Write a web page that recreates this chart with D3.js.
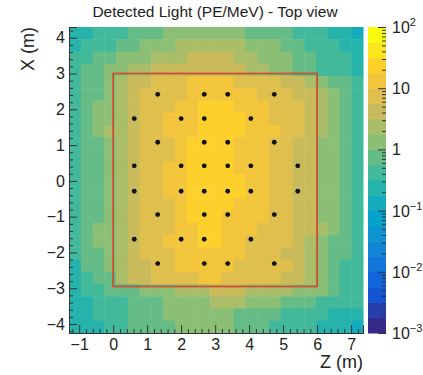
<!DOCTYPE html>
<html>
<head>
<meta charset="utf-8">
<script src="https://cdn.jsdelivr.net/npm/d3@7/dist/d3.min.js"></script>
<style>
body { margin: 0; background: #fff; }
svg { font-family: "Liberation Sans", Arial, Helvetica, sans-serif; }
</style>
</head>
<body>
<svg id="chart" width="423" height="375"></svg>
<script>
// detected light per cell, as contour band code (0-9a-j -> 20 quarter-decade bands from 1e-3 to 1e2)
// rows go from X = +4.3 (top) down to X = -4.25, columns from Z = -1.3 to 7.35
const lightRows = [
    "99aaabbbcccccccbbbbaaa998",
    "9aaabbcccddddddcccbbaaa99",
    "aabbcccdddeeeeddcccbbaaa9",
    "abbccddeeeeeeeeddccbbaaa9",
    "abbcdeefffggggffffeedcbba",
    "abbcdeffffggggggfffeedcba",
    "abccdefffgghhhgggfffedcba",
    "abccdeffggghhhhggfffedcba",
    "abcddeffggghhhhgggffedcba",
    "abbcdefffghhhhgggffeeccba",
    "abbcdefffghhhhgggffeeccba",
    "abbcdeffgghhhhgggffeeccba",
    "abbcdeffgghhhhhggffeeccba",
    "abbcdeffgghhhhhggffeeccba",
    "abbcdefffghhhhgggffeeccba",
    "abbcdefffghhhggggffeeccba",
    "abccdefffgghhgggfffeedcba",
    "abccdeffggghhggffffedcbba",
    "abbcdefffggggggfffeedcbba",
    "9bbcdeeffgggggfffffedcbaa",
    "9abbdeeffffggfffffeedcbaa",
    "9aabbbcccdddeeeddddcccbaa",
    "99aaabbbccccdddcccbbbaaaa",
    "99aaabbbccccccbbbbaaaa999",
    "999aabbbbcccccbbbaaaa9998"
];

// PMT positions (Z, X) in metres
const pmtZ = [1.31, 2.68, 3.37, 4.74,
              0.62, 2.0, 2.68, 4.05,
              1.31, 2.68, 3.37, 4.74,
              0.62, 2.0, 2.68, 3.37, 4.05, 5.43,
              0.62, 2.0, 2.68, 3.37, 4.05, 5.43,
              1.31, 2.68, 3.37, 4.74,
              0.62, 2.0, 2.68, 4.05,
              1.31, 2.68, 3.37, 4.74];
const pmtX = [2.42, 2.42, 2.42, 2.42,
              1.74, 1.74, 1.74, 1.74,
              1.08, 1.08, 1.08, 1.08,
              0.42, 0.42, 0.42, 0.42, 0.42, 0.42,
              -0.29, -0.29, -0.29, -0.29, -0.29, -0.29,
              -0.94, -0.94, -0.94, -0.94,
              -1.63, -1.63, -1.63, -1.63,
              -2.31, -2.31, -2.31, -2.31];

// detector box outline
const boxZ = [0, 6];
const boxX = [-2.95, 3];

const zTicks = [-1, 0, 1, 2, 3, 4, 5, 6, 7];
const xTicks = [-4, -3, -2, -1, 0, 1, 2, 3, 4];
const cbTicks = [1e-3, 1e-2, 1e-1, 1, 10, 100];
const cbLabels = [["10", "-3"], ["10", "-2"], ["10", "-1"], ["1", ""], ["10", ""], ["10", "2"]];

const zRange = [-1.3, 7.35];
const xRange = [-4.25, 4.3];
const nLevels = 20;

const margin = {top: 27, left: 69, right: 60, bottom: 42};
const width = 363 - margin.left;
const height = 333 - margin.top;

const svg = d3.select("#chart");

const xScale = d3.scaleLinear().domain(zRange).range([0, width]);
const yScale = d3.scaleLinear().domain(xRange).range([height, 0]);

// ROOT kBird palette
const birdStops = [0, 0.125, 0.25, 0.375, 0.5, 0.625, 0.75, 0.875, 1];
const birdR = [0.2082, 0.0592, 0.0780, 0.0232, 0.1802, 0.5301, 0.8186, 0.9956, 0.9764];
const birdG = [0.1664, 0.3599, 0.5041, 0.6419, 0.7178, 0.7492, 0.7328, 0.7862, 0.9832];
const birdB = [0.5293, 0.8684, 0.8385, 0.7914, 0.6425, 0.4662, 0.3499, 0.1968, 0.0539];
const bird = d3.scaleLinear()
    .domain(birdStops)
    .range(birdStops.map((s, i) => d3.rgb(birdR[i] * 255, birdG[i] * 255, birdB[i] * 255)))
    .interpolate(d3.interpolateRgb);

const logScale = d3.scaleLog().domain([1e-3, 1e2]);
function bandOf(v){
    return Math.max(0, Math.min(nLevels - 1, Math.floor(logScale(v) * nLevels)));
}
function colorOf(v){
    return bird(bandOf(v) / (nLevels - 1));
}

// build cells
const nRows = lightRows.length;
const nCols = lightRows[0].length;
const dz = (zRange[1] - zRange[0]) / nCols;
const dx = (xRange[1] - xRange[0]) / nRows;
const cells = [];
lightRows.forEach((row, j) => {
    row.split("").forEach((ch, i) => {
        const b = parseInt(ch, 36);
        cells.push({
            z0: zRange[0] + i * dz,
            x1: xRange[1] - j * dx,
            value: Math.pow(10, -3 + (b + 0.5) * 5 / nLevels)
        });
    });
});

const g = svg.append("g")
    .attr("transform", "translate(" + margin.left + "," + margin.top + ")");

g.selectAll(".cell")
    .data(cells)
    .enter().append("rect")
    .attr("class", "cell")
    .attr("x", d => xScale(d.z0))
    .attr("y", d => yScale(d.x1))
    .attr("width", xScale(d3.min(cells, c => c.z0) + dz) - xScale(d3.min(cells, c => c.z0)) + 0.5)
    .attr("height", yScale(xRange[1] - dx) - yScale(xRange[1]) + 0.5)
    .style("fill", d => colorOf(d.value));

// detector box
g.append("rect")
    .attr("x", xScale(boxZ[0]))
    .attr("y", yScale(boxX[1]))
    .attr("width", xScale(boxZ[1]) - xScale(boxZ[0]))
    .attr("height", yScale(boxX[0]) - yScale(boxX[1]))
    .style("fill", "none")
    .style("stroke", "#cc4f33")
    .style("stroke-width", 1.8);

// PMTs
g.selectAll(".pmt")
    .data(pmtZ.map((z, i) => ({z: z, x: pmtX[i]})))
    .enter().append("circle")
    .attr("class", "pmt")
    .attr("cx", d => xScale(d.z))
    .attr("cy", d => yScale(d.x))
    .attr("r", 2.4)
    .style("fill", "#111");

// axes (ticks inside the frame, ROOT style)
const axisColor = "#333";
const xAxis = d3.axisBottom(xScale).tickValues(zTicks).tickSize(-8).tickPadding(6);
const xMinor = d3.axisBottom(xScale)
    .tickValues(d3.range(-1.2, 7.35, 0.2).filter(v => Math.abs(v - Math.round(v)) > 0.01))
    .tickSize(-4).tickFormat("");
const yAxis = d3.axisLeft(yScale).tickValues(xTicks).tickSize(-8).tickPadding(4);
const yMinor = d3.axisLeft(yScale)
    .tickValues(d3.range(-4.2, 4.3, 0.2).filter(v => Math.abs(v - Math.round(v)) > 0.01))
    .tickSize(-4).tickFormat("");

g.append("g").attr("class", "axis axis--x")
    .attr("transform", "translate(0," + height + ")")
    .call(xMinor);
g.append("g").attr("class", "axis axis--x")
    .attr("transform", "translate(0," + height + ")")
    .call(xAxis);
g.append("g").attr("class", "axis axis--y").call(yMinor);
g.append("g").attr("class", "axis axis--y").call(yAxis);

g.selectAll(".axis text").style("font-size", "16px").style("fill", "#222");
g.selectAll(".axis line").style("stroke", axisColor);
g.selectAll(".axis path").style("stroke", axisColor);

// axis titles
svg.append("text")
    .attr("x", 363)
    .attr("y", 368)
    .attr("text-anchor", "end")
    .style("font-size", "18px")
    .style("fill", "#222")
    .text("Z (m)");

svg.append("text")
    .attr("transform", "translate(34," + margin.top + ") rotate(-90)")
    .attr("text-anchor", "end")
    .style("font-size", "18px")
    .style("fill", "#222")
    .text("X (m)");

// title
svg.append("text")
    .attr("x", 215)
    .attr("y", 17)
    .attr("text-anchor", "middle")
    .style("font-size", "15.5px")
    .style("fill", "#222")
    .text("Detected Light (PE/MeV) - Top view");

// colour bar
const cbX = 368, cbW = 18;
const cbScale = d3.scaleLog().domain([1e-3, 1e2]).range([margin.top + height, margin.top]);
const cb = svg.append("g");
const bandEdges = d3.range(nLevels + 1).map(k => Math.pow(10, -3 + k * 5 / nLevels));
cb.selectAll(".band")
    .data(d3.range(nLevels))
    .enter().append("rect")
    .attr("class", "band")
    .attr("x", cbX)
    .attr("y", k => cbScale(bandEdges[k + 1]))
    .attr("width", cbW)
    .attr("height", k => cbScale(bandEdges[k]) - cbScale(bandEdges[k + 1]) + 0.5)
    .style("fill", k => bird(k / (nLevels - 1)));

const cbMinorVals = [];
cbTicks.slice(0, -1).forEach(t => { for (let m = 2; m < 10; m++) cbMinorVals.push(t * m); });
cb.append("g")
    .attr("transform", "translate(" + (cbX + cbW) + ",0)")
    .call(d3.axisRight(cbScale).tickValues(cbMinorVals).tickSize(-4).tickFormat(""))
    .call(a => a.select(".domain").remove());
cb.append("g")
    .attr("transform", "translate(" + (cbX + cbW) + ",0)")
    .call(d3.axisRight(cbScale).tickValues(cbTicks).tickSize(-8).tickFormat(""))
    .call(a => a.select(".domain").remove());
cb.selectAll("line").style("stroke", axisColor);

const cbText = cb.selectAll(".cblabel")
    .data(cbTicks)
    .enter().append("text")
    .attr("class", "cblabel")
    .attr("x", cbX + cbW + 6)
    .attr("y", d => cbScale(d) + 6)
    .style("font-size", "16px")
    .style("fill", "#222");
cbText.append("tspan").text((d, i) => cbLabels[i][0]);
cbText.append("tspan")
    .attr("dy", -7)
    .style("font-size", "11px")
    .text((d, i) => cbLabels[i][1].replace("-", "\u2212"));
</script>
</body>
</html>
